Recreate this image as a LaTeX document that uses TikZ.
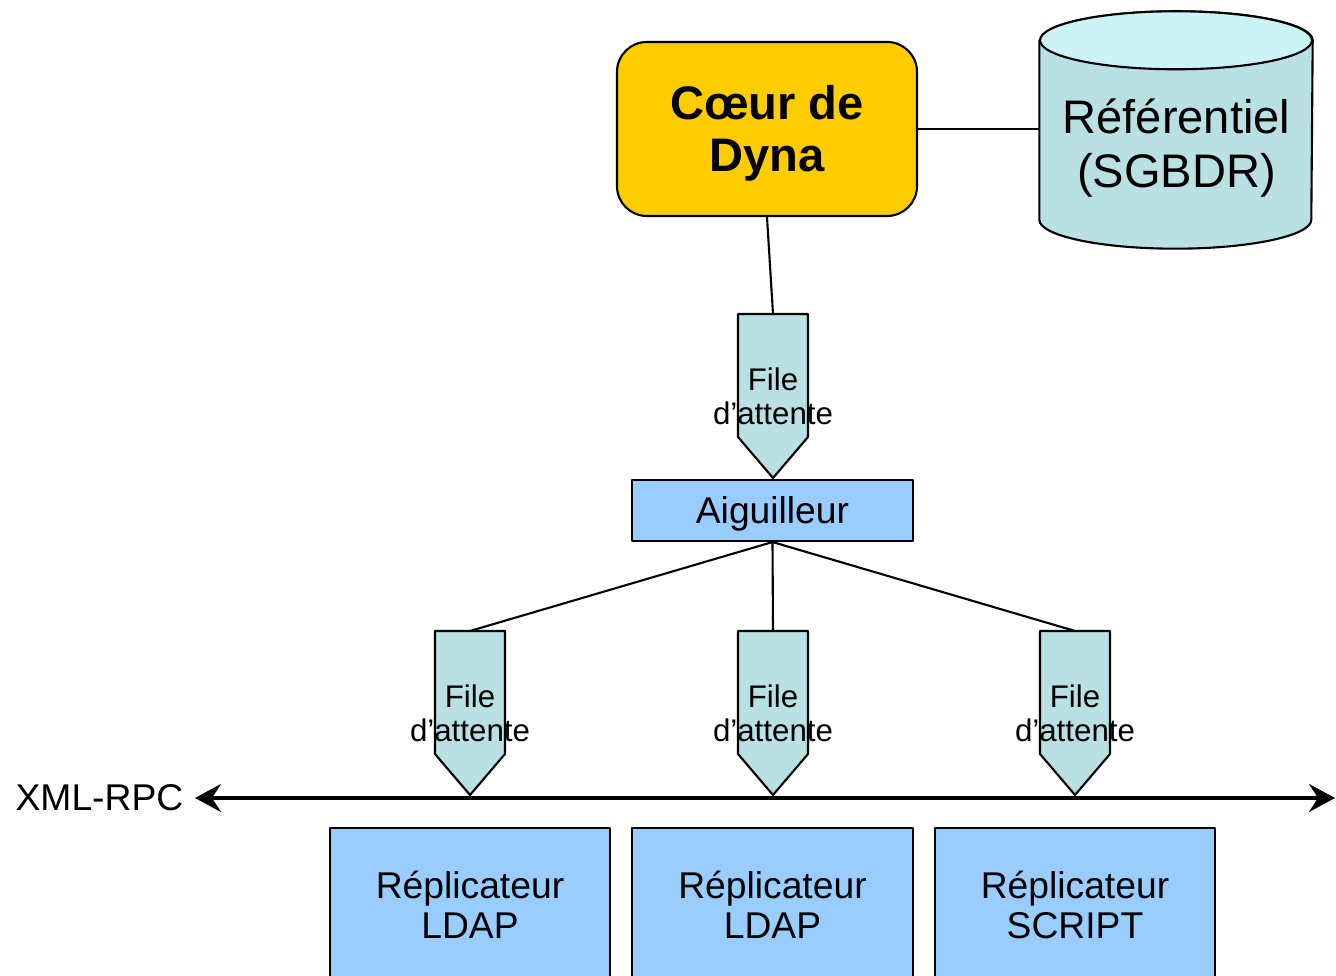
\documentclass[tikz,border=0pt]{standalone}
\usepackage{fontspec}
\setmainfont{Liberation Sans}
\usetikzlibrary{arrows.meta,positioning,calc}
\definecolor{core}{HTML}{FFCC00}
\definecolor{base}{HTML}{B9E0E3}
\definecolor{basetop}{HTML}{CCF4F6}
\definecolor{queue}{HTML}{B9E0E3}
\definecolor{blk}{HTML}{99CCFF}
\definecolor{ink}{HTML}{000000}
\tikzset{
  >={Stealth[length=2.6mm,width=2.8mm,inset=0.9mm]},
  every picture/.style={line join=round},
  corebox/.style={draw=ink, fill=core, rounded corners=8.5pt, align=center,
    font=\fontsize{13.4}{14.8}\selectfont\bfseries, minimum width=3cm,
    minimum height=1.74cm, line width=0.6pt},
  dbframe/.style={minimum width=2.72cm, minimum height=2.36cm, inner sep=0pt},
  dbbody/.style={draw=ink, fill=base, line width=0.6pt},
  dbtop/.style={draw=ink, fill=basetop, line width=0.6pt},
  dblbl/.style={align=center, inner sep=0pt, font=\fontsize{13.4}{15.3}\selectfont},
  blkbox/.style={draw=ink, fill=blk, align=center, inner sep=0pt,
    font=\fontsize{10.6}{11.3}\selectfont, line width=0.6pt},
  queue/.style={draw=ink, fill=queue, line width=0.6pt},
  qlbl/.style={font=\fontsize{8.9}{9.6}\selectfont, align=center, inner sep=0pt},
  link/.style={draw=ink, line width=0.6pt},
  bus/.style={<->, draw=ink, line width=0.9pt},
  lbl/.style={font=\fontsize{10.6}{11.3}\selectfont, inner sep=0pt},
}
\newcommand{\FileAttente}[2]{% #1 name, #2 top point
  \coordinate (#1) at (#2);
  \filldraw[queue] ($(#1)+(-0.35,0)$) -- ($(#1)+(0.35,0)$) -- ($(#1)+(0.35,-1.23)$)
    -- ($(#1)+(0,-1.64)$) -- ($(#1)+(-0.35,-1.23)$) -- cycle;
  \node[qlbl] (#1t) at ($(#1)+(0,-0.82)$) {File\\d'attente};
}

\begin{document}
\begin{tikzpicture}
  \useasboundingbox (0,0) rectangle (13.36,9.76);
  \clip (0,0) rectangle (13.36,9.76);

  % ---------------- top: core and database ----------------
  \node[corebox] (core) at (7.67,8.47) {\raisebox{-1.6pt}[\height][\depth]{\begin{tabular}{@{}c@{}}Cœur de\\Dyna\end{tabular}}};
  \node[dbframe] (db) at (11.76,8.46) {};
  \draw[dbbody] ($(db.north west)+(0,-0.29)$) -- ($(db.south west)+(0,0.29)$)
    arc[start angle=180, end angle=360, x radius=1.36, y radius=0.29]
    -- ($(db.north east)+(0,-0.29)$)
    arc[start angle=0, end angle=180, x radius=1.36, y radius=0.29] -- cycle;
  \draw[dbtop] ($(db.north)+(0,-0.29)$) ellipse[x radius=1.36, y radius=0.29];
  \node[dblbl] (dbt) at (11.765,8.28) {Référentiel\\(SGBDR)};
  \draw[link] (core.east) -- (core.east -| db.west);

  % ---------------- queue to dispatcher ----------------
  \coordinate (q0) at (7.73,6.62);
  \draw[link] (core.south) -- (q0);
  \FileAttente{q0}{7.73,6.62}
  \node[blkbox, minimum width=2.81cm, minimum height=0.61cm] (aig) at (7.725,4.655) {\raisebox{-1pt}[\height][\depth]{Aiguilleur}};

  % ---------------- three queues ----------------
  \coordinate (q1) at (4.70,3.45);
  \coordinate (q2) at (7.73,3.45);
  \coordinate (q3) at (10.75,3.45);
  \foreach \q in {q1,q2,q3}
    \draw[link] (aig.south) -- (\q);
  \FileAttente{q1}{4.70,3.45}
  \FileAttente{q2}{7.73,3.45}
  \FileAttente{q3}{10.75,3.45}

  % ---------------- XML-RPC bus ----------------
  \coordinate (busL) at (1.95,1.78);
  \coordinate (busR) at (13.35,1.78);
  \draw[bus] (busL) -- (busR);
  \node[lbl, anchor=east] (xml) at (1.84,1.78) {XML-RPC};

  % ---------------- replicators ----------------
  \node[blkbox, minimum width=2.80cm, minimum height=1.54cm] (rep1) at (4.70,0.71) {Réplicateur\\LDAP};
  \node[blkbox, minimum width=2.81cm, minimum height=1.54cm] (rep2) at (7.725,0.71) {Réplicateur\\LDAP};
  \node[blkbox, minimum width=2.80cm, minimum height=1.54cm] (rep3) at (10.75,0.71) {Réplicateur\\SCRIPT};
\end{tikzpicture}
\end{document}
